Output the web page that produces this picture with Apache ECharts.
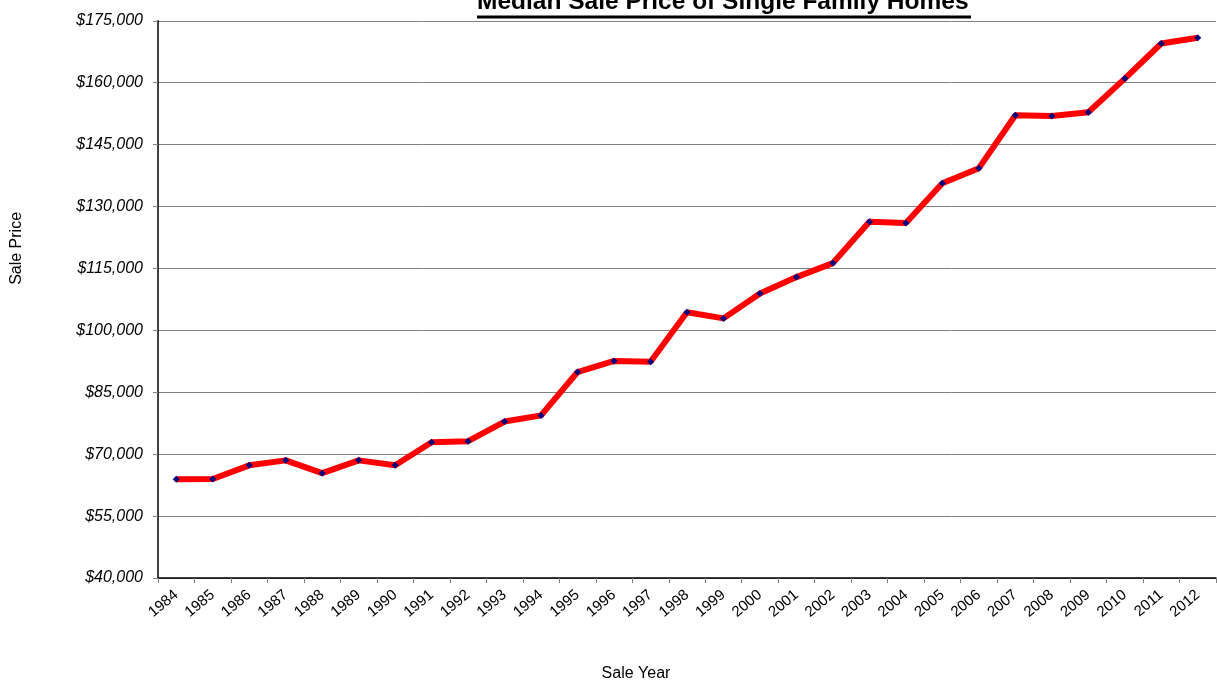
<!DOCTYPE html>
<html>
<head>
<meta charset="utf-8">
<script src="https://cdn.jsdelivr.net/npm/echarts@6/dist/echarts.min.js"></script>
<style>
  html, body { margin: 0; padding: 0; background: #fff; }
  #chart { width: 1217px; height: 688px; }
</style>
</head>
<body>
<div id="chart"></div>
<script>
const years = ['1984', '1985', '1986', '1987', '1988', '1989', '1990', '1991', '1992', '1993',
  '1994', '1995', '1996', '1997', '1998', '1999', '2000', '2001', '2002', '2003',
  '2004', '2005', '2006', '2007', '2008', '2009', '2010', '2011', '2012']
const medianPrice = [63900, 64000, 67300, 68500, 65400, 68500, 67300, 72900, 73150, 77900,
  79400, 89900, 92600, 92400, 104400, 102900, 108950, 112900, 116300, 126300,
  126000, 135650, 139300, 152100, 151950, 152850, 161000, 169500, 170900]

const FONT = '"Liberation Sans", Arial, sans-serif'

const chart = echarts.init(document.getElementById('chart'))

chart.setOption({
  animation: false,
  title: {
    text: 'Median Sale Price of Single Family Homes',
    left: 477,
    top: -10,
    padding: 0,
    textStyle: { fontFamily: FONT, fontSize: 24.5, fontWeight: 'bold', color: '#000' }
  },
  // underline under the title
  graphic: [{
    type: 'rect',
    shape: { x: 477, y: 15.5, width: 494, height: 3 },
    style: { fill: '#000' }
  }],
  grid: { left: 158, right: 1, top: 20.8, bottom: 110 },
  xAxis: {
    type: 'category',
    data: years,
    name: 'Sale Year',
    nameLocation: 'middle',
    nameGap: 88,
    nameTextStyle: { fontFamily: FONT, fontSize: 16, color: '#000', padding: [0, 0, 0, -102] },
    axisLine: { lineStyle: { color: '#000', width: 1.5 } },
    axisTick: { show: true, length: 5, lineStyle: { color: '#808080' } },
    axisLabel: { rotate: 40, fontFamily: FONT, fontSize: 15, color: '#000', margin: 15 }
  },
  yAxis: {
    type: 'value',
    min: 40000,
    max: 175000,
    interval: 15000,
    name: 'Sale Price',
    nameLocation: 'middle',
    nameGap: 133,
    nameTextStyle: { fontFamily: FONT, fontSize: 16, color: '#000', padding: [0, 0, 0, 102] },
    axisLine: { show: true, lineStyle: { color: '#000', width: 1.5 } },
    axisTick: { show: true, length: 5, lineStyle: { color: '#808080' } },
    axisLabel: {
      fontFamily: FONT, fontSize: 16, fontStyle: 'italic', color: '#000', margin: 15,
      formatter: v => '$' + v.toLocaleString('en-US')
    },
    splitLine: { lineStyle: { color: '#808080', width: 1 } }
  },
  series: [{
    type: 'line',
    data: medianPrice,
    symbol: 'diamond',
    symbolSize: 7,
    itemStyle: { color: '#000080' },
    lineStyle: { color: '#ff0000', width: 6 }
  }]
})
</script>
</body>
</html>
